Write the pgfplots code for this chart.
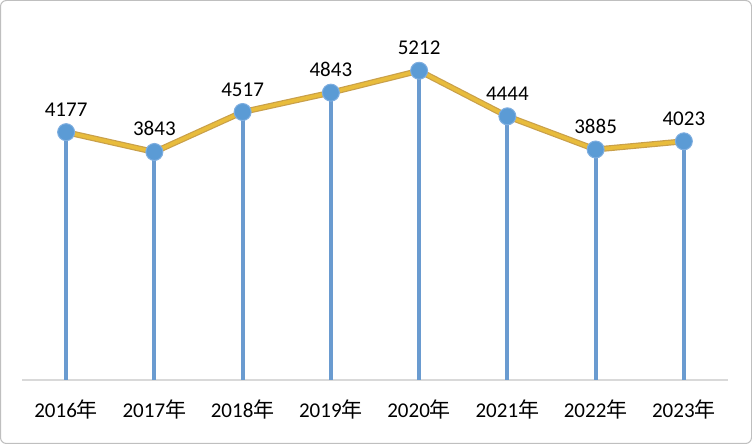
\documentclass[border=0pt]{standalone}
\usepackage{pgfplots}
\pgfplotsset{compat=1.18}
\usepackage{pgfplotstable}
\usepackage{fontspec}
\setmainfont{Carlito}
\newfontfamily\cjk{Noto Sans CJK SC}
\definecolor{stem}{HTML}{6A9BD0}
\definecolor{mk}{HTML}{5B9BD5}
\definecolor{mkedge}{HTML}{7FAEE0}
\definecolor{gold}{HTML}{E8BC3C}
\definecolor{golddark}{HTML}{C9A04A}
\definecolor{base}{HTML}{D9D9D9}
\definecolor{frame}{HTML}{BFBFBF}
\pgfplotstableread{
x y lab
0 4177 4177
1 3843 3843
2 4517 4517
3 4843 4843
4 5212 5212
5 4444 4444
6 3885 3885
7 4023 4023
}\datatab
\begin{document}
\begin{tikzpicture}[x=1pt,y=1pt]
\path[use as bounding box] (0,0) rectangle (752,444);
\draw[frame, line width=1pt, rounded corners=6pt] (0.5,0.5) rectangle (751.5,443.5);
\begin{axis}[
  at={(22pt,64pt)}, anchor=south west,
  scale only axis, width=706pt, height=356pt,
  xmin=-0.5, xmax=7.5, ymin=0, ymax=6000,
  axis y line=none,
  axis x line*=bottom,
  x axis line style={base, line width=1.2pt, -},
  xtick=data,
  xticklabels={2016{\cjk 年},2017{\cjk 年},2018{\cjk 年},2019{\cjk 年},2020{\cjk 年},2021{\cjk 年},2022{\cjk 年},2023{\cjk 年}},
  xticklabel style={font=\fontsize{21}{22}\selectfont, yshift=-16pt},
  major tick length=0pt,
  clip=false,
]
\addplot[ycomb, stem, line width=4pt, mark=none] table[x=x,y=y] {\datatab};
\addplot[golddark, line width=6pt, mark=none] table[x=x,y=y] {\datatab};
\addplot[gold, line width=3.6pt, mark=none] table[x=x,y=y] {\datatab};
\addplot[draw=none, mark=*, mark size=8.5pt, mark options={fill=mk, draw=mkedge, line width=1pt},
  point meta=explicit symbolic,
  nodes near coords, every node near coord/.append style={font=\fontsize{21}{22}\selectfont, text=black, yshift=12pt}]
  table[x=x,y=y,meta=lab] {\datatab};
\end{axis}
\end{tikzpicture}
\end{document}
